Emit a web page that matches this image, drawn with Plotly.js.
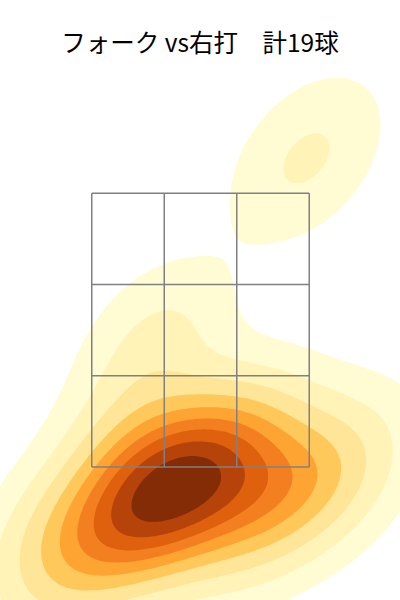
<!DOCTYPE html>
<html>
<head>
<meta charset="utf-8">
<script src="https://cdn.plot.ly/plotly-3.0.1.min.js"></script>
<style>html,body{margin:0;padding:0;background:#fff;}#chart{width:400px;height:600px;}</style>
</head>
<body>
<div id="chart"></div>
<script>
// Pitch locations (plate_x, plate_z in feet), 19 forkballs vs right-handed batters
const pitchX = [-0.59, -0.42, -0.28, -0.13, 0.03, 0.15, 0.28, -0.20, -0.04, -0.33, 0.95, 0.55, -1.00, -0.82, -0.30, -0.52, 0.62, 0.69, 0.30];
const pitchZ = [1.23, 1.31, 1.38, 1.45, 1.52, 1.57, 1.62, 1.62, 1.27, 1.20, 1.50, 1.45, 1.10, 0.88, 2.36, 1.69, 1.38, 3.56, 1.22];

// Strike zone (feet)
const zoneX = [-0.708, -0.236, 0.236, 0.708];
const zoneZ = [1.55, 2.144, 2.738, 3.332];

// Band colours, outermost to core
const bandColors = ['#fffbd3', '#fff3b7', '#fee597', '#fec95a', '#fea433', '#f47f20', '#df600d', '#b5430a', '#832c06'];

const titleText = 'フォーク vs右打　計19球';

// ---- Gaussian KDE (Scott's rule, full covariance) ----
const n = pitchX.length;
const mx = pitchX.reduce((a, b) => a + b, 0) / n;
const mz = pitchZ.reduce((a, b) => a + b, 0) / n;
let sxx = 0, szz = 0, sxz = 0;
for (let i = 0; i < n; i++) {
  const dx = pitchX[i] - mx, dz = pitchZ[i] - mz;
  sxx += dx * dx; szz += dz * dz; sxz += dx * dz;
}
sxx /= (n - 1); szz /= (n - 1); sxz /= (n - 1);
const f2 = Math.pow(n, -2 / 6);
const kxx = sxx * f2, kzz = szz * f2, kxz = sxz * f2;
const det = kxx * kzz - kxz * kxz;
const ixx = kzz / det, izz = kxx / det, ixz = -kxz / det;
const norm = 1 / (2 * Math.PI * Math.sqrt(det) * n);

const G = 200, cut = 3;
const bwx = Math.sqrt(kxx), bwz = Math.sqrt(kzz);
const x0 = Math.min(...pitchX) - cut * bwx, x1 = Math.max(...pitchX) + cut * bwx;
const z0 = Math.min(...pitchZ) - cut * bwz, z1 = Math.max(...pitchZ) + cut * bwz;
const gx = [], gz = [];
for (let i = 0; i < G; i++) { gx.push(x0 + (x1 - x0) * i / (G - 1)); gz.push(z0 + (z1 - z0) * i / (G - 1)); }
const dens = [];
const flat = [];
for (let j = 0; j < G; j++) {
  const row = [];
  for (let i = 0; i < G; i++) {
    let s = 0;
    for (let k = 0; k < n; k++) {
      const dx = gx[i] - pitchX[k], dz = gz[j] - pitchZ[k];
      s += Math.exp(-0.5 * (ixx * dx * dx + 2 * ixz * dx * dz + izz * dz * dz));
    }
    row.push(s * norm); flat.push(s * norm);
  }
  dens.push(row);
}
// iso-proportion levels (thresh 0.05, 10 levels)
const sorted = flat.slice().sort((a, b) => b - a);
const total = flat.reduce((a, b) => a + b, 0);
const cum = []; let acc = 0;
for (const v of sorted) { acc += v; cum.push(acc / total); }
const levels = [];
for (let k = 0; k < 10; k++) {
  const p = 0.05 + (1 - 0.05) * k / 9;
  const target = 1 - p;
  let idx = 0;
  while (idx < cum.length && cum[idx] < target) idx++;
  idx = Math.min(idx, sorted.length - 1);
  levels.push(sorted[idx]);
}
// map density to level-index space so that contour levels are 0..8
function toIndex(d) {
  if (d < levels[0]) return -1 + d / levels[0];
  for (let k = 0; k < 9; k++) {
    if (d < levels[k + 1]) return k + (d - levels[k]) / (levels[k + 1] - levels[k]);
  }
  return 9;
}
const zIdx = dens.map(r => r.map(toIndex));

const colorscale = [[0, '#ffffff']];
bandColors.forEach((c, k) => colorscale.push([(k + 1) / 9, c]));

const shapes = [];
zoneX.forEach(x => shapes.push({type: 'line', xref: 'x', yref: 'y', x0: x, x1: x, y0: zoneZ[0], y1: zoneZ[3], line: {color: '#808080', width: 1.5}, layer: 'above'}));
zoneZ.forEach(z => shapes.push({type: 'line', xref: 'x', yref: 'y', x0: zoneX[0], x1: zoneX[3], y0: z, y1: z, line: {color: '#808080', width: 1.5}, layer: 'above'}));

const trace = {
  type: 'contour', x: gx, y: gz, z: zIdx,
  autocontour: false,
  contours: {start: 0, end: 8, size: 1, coloring: 'fill', showlines: false},
  line: {width: 0},
  colorscale: colorscale, showscale: false, hoverinfo: 'skip'
};

const layout = {
  width: 400, height: 600,
  margin: {l: 0, r: 0, t: 60, b: 0},
  paper_bgcolor: '#ffffff', plot_bgcolor: '#ffffff',
  title: {text: titleText, x: 0.5, xanchor: 'center', y: 1 - 43 / 600, yref: 'container', yanchor: 'middle',
          font: {family: 'Noto Sans CJK JP', size: 24.5, color: '#000000'}},
  xaxis: {range: [-1.3053, 1.2988], visible: false, fixedrange: true},
  yaxis: {range: [0.684, 4.200], visible: false, fixedrange: true},
  shapes: shapes, showlegend: false
};
Plotly.newPlot('chart', [trace], layout, {displayModeBar: false, staticPlot: true});
</script>
</body>
</html>
